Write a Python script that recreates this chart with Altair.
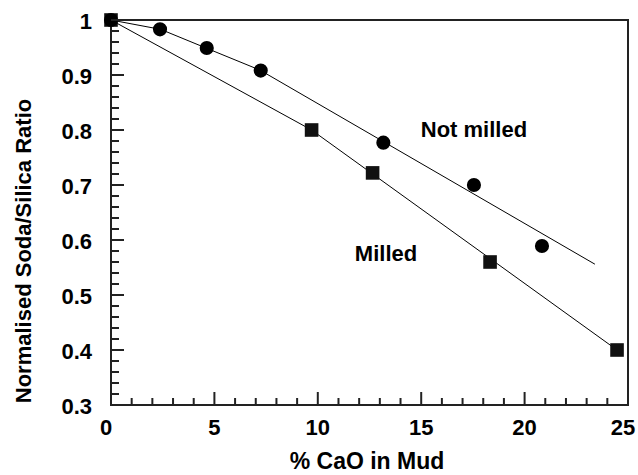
import altair as alt
import pandas as pd

# Data
cao_not_milled = [0.0, 2.37, 4.63, 7.24, 13.17, 17.55, 20.84]
ratio_not_milled = [1.0, 0.983, 0.949, 0.908, 0.777, 0.700, 0.589]
cao_milled = [0.0, 9.70, 12.65, 18.33, 24.47]
ratio_milled = [1.0, 0.800, 0.722, 0.560, 0.400]

fit_not_milled_x = [0.0, 2.4, 4.6, 7.2, 23.4]
fit_not_milled_y = [1.0, 0.983, 0.949, 0.909, 0.556]
fit_milled_x = [0.0, 9.7, 24.47]
fit_milled_y = [1.0, 0.800, 0.400]

label_text = ["Not milled", "Milled"]
label_x = [17.55, 13.3]
label_y = [0.800, 0.5745]

x_major = [0, 5, 10, 15, 20, 25]
x_major_labels = ["0", "5", "10", "15", "20", "25"]
x_minor = [v for v in range(0, 26) if v % 5 != 0]
y_major = [0.3, 0.4, 0.5, 0.6, 0.7, 0.8, 0.9, 1.0]
y_major_labels = ["0.3", "0.4", "0.5", "0.6", "0.7", "0.8", "0.9", "1"]
y_minor = [round(0.3 + 0.02 * i, 2) for i in range(36) if i % 5 != 0]

x_title = "% CaO in Mud"
y_title = "Normalised Soda/Silica Ratio"

W, H = 517, 385
FONT = "Liberation Sans"
INK = "#222"

df_nm = pd.DataFrame({"x": cao_not_milled, "y": ratio_not_milled})
df_m = pd.DataFrame({"x": cao_milled, "y": ratio_milled})
df_fit = pd.concat([
    pd.DataFrame({"x": fit_not_milled_x, "y": fit_not_milled_y, "s": "Not milled"}),
    pd.DataFrame({"x": fit_milled_x, "y": fit_milled_y, "s": "Milled"}),
])
df_lab = pd.DataFrame({"x": label_x, "y": label_y, "t": label_text})
df_xl = pd.DataFrame({"tx": x_major, "t": x_major_labels})
df_yl = pd.DataFrame({"ty": y_major, "t": y_major_labels})

xs = alt.Scale(domain=[0, 25], nice=False, zero=False)
ys = alt.Scale(domain=[0.3, 1.0], nice=False, zero=False)

TXT = dict(font=FONT, fontWeight="bold", color="#000")


def xticks(vals, length):
    return alt.Chart(pd.DataFrame({"tx": vals})).mark_rule(
        color=INK, strokeWidth=2
    ).encode(
        x=alt.X("tx:Q", scale=xs, axis=None),
        y=alt.value(H),
        y2=alt.value(H - length),
    )


def yticks(vals, length):
    return alt.Chart(pd.DataFrame({"ty": vals})).mark_tick(
        color=INK, thickness=2, size=length, opacity=1
    ).encode(
        y=alt.Y("ty:Q", scale=ys, axis=None),
        x=alt.value(length / 2),
    )


lines = alt.Chart(df_fit).mark_line(color="#000", strokeWidth=1).encode(
    x=alt.X("x:Q", scale=xs, axis=None),
    y=alt.Y("y:Q", scale=ys, axis=None),
    detail="s:N",
)

squares = alt.Chart(df_m).mark_point(shape="square", filled=True, color="#111",
                                      size=185, opacity=1).encode(
    x=alt.X("x:Q", scale=xs, axis=None),
    y=alt.Y("y:Q", scale=ys, axis=None),
)

circles = alt.Chart(df_nm).mark_point(shape="circle", filled=True, color="#000",
                                       size=200, opacity=1).encode(
    x=alt.X("x:Q", scale=xs, axis=None),
    y=alt.Y("y:Q", scale=ys, axis=None),
)

texts = alt.Chart(df_lab).mark_text(fontSize=22, align="center",
                                    baseline="middle", **TXT).encode(
    x=alt.X("x:Q", scale=xs, axis=None),
    y=alt.Y("y:Q", scale=ys, axis=None),
    text="t:N",
)

# tick labels (drawn through the scales)
x_labels_inner = alt.Chart(df_xl).transform_filter(
    "datum.tx > 0 && datum.tx < 25"
).mark_text(fontSize=22, align="center", baseline="middle", **TXT).encode(
    x=alt.X("tx:Q", scale=xs, axis=None),
    y=alt.value(H + 23),
    text="t:N",
)
x_labels_edge = alt.Chart(df_xl).transform_filter(
    "datum.tx <= 0 || datum.tx >= 25"
).mark_text(fontSize=22, align="center", baseline="middle", dx=-5, **TXT).encode(
    x=alt.X("tx:Q", scale=xs, axis=None),
    y=alt.value(H + 23),
    text="t:N",
)
y_labels = alt.Chart(df_yl).mark_text(fontSize=22, align="right",
                                      baseline="middle", dy=2, **TXT).encode(
    y=alt.Y("ty:Q", scale=ys, axis=None),
    x=alt.value(-19),
    text="t:N",
)

# axis titles
x_title_mark = alt.Chart(pd.DataFrame({"t": [x_title]})).mark_text(
    fontSize=23, align="center", baseline="middle", **TXT
).encode(x=alt.value(256), y=alt.value(H + 57), text="t:N")

y_title_mark = alt.Chart(pd.DataFrame({"t": [y_title]})).mark_text(
    fontSize=22, align="center", baseline="middle", angle=270, **TXT
).encode(x=alt.value(-87), y=alt.value(231), text="t:N")

chart = alt.layer(
    lines, squares, circles, texts,
    xticks(x_minor, 7), xticks(x_major, 13),
    yticks(y_minor, 8), yticks(y_major, 13),
    x_labels_inner, x_labels_edge, y_labels,
    x_title_mark, y_title_mark,
).properties(
    width=W, height=H,
    padding={"left": 111, "top": 20, "right": 10, "bottom": 70},
    autosize=alt.AutoSizeParams(type="none"),
    background="white",
).configure_view(stroke=INK, strokeWidth=2)

chart.save("out.html", embed_options={"renderer": "svg", "actions": False})
